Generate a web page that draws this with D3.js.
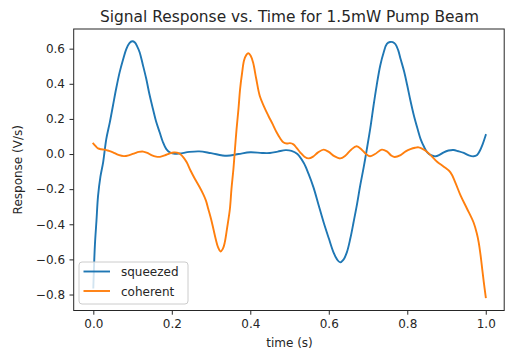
<!DOCTYPE html>
<html>
<head>
<meta charset="utf-8">
<script src="https://cdn.jsdelivr.net/npm/d3@7"></script>
<style>
  html, body { margin: 0; padding: 0; background: #fff; }
  svg { display: block; font-family: "DejaVu Sans", sans-serif; }
</style>
</head>
<body>
<svg id="chart" width="505" height="354"></svg>
<script>
// Sample times (s) and responses (V/s) for the squeezed beam
const squeezedTime = [
  0.000, 0.004, 0.008, 0.012, 0.018, 0.025, 0.033, 0.042, 0.050, 0.058,
  0.067, 0.076, 0.084, 0.092, 0.099, 0.106, 0.112, 0.118, 0.126, 0.135,
  0.143, 0.152, 0.160, 0.169, 0.177, 0.186, 0.196, 0.208, 0.220, 0.245,
  0.270, 0.300, 0.340, 0.370, 0.400, 0.430, 0.450, 0.470, 0.490, 0.505,
  0.520, 0.536, 0.548, 0.561, 0.574, 0.587, 0.600, 0.612, 0.621, 0.629,
  0.637, 0.646, 0.655, 0.663, 0.672, 0.680, 0.689, 0.697, 0.706, 0.714,
  0.722, 0.731, 0.740, 0.748, 0.756, 0.763, 0.770, 0.777, 0.783, 0.792,
  0.800, 0.808, 0.817, 0.826, 0.834, 0.843, 0.851, 0.862, 0.872, 0.882,
  0.893, 0.905, 0.918, 0.930, 0.944, 0.957, 0.969, 0.978, 0.985, 0.992,
  1.000
];
const squeezedValue = [
  -0.760, -0.520, -0.380, -0.240, -0.130, -0.047, 0.085, 0.180, 0.275, 0.370,
  0.465, 0.540, 0.598, 0.632, 0.642, 0.635, 0.612, 0.580, 0.510, 0.427,
  0.340, 0.256, 0.185, 0.124, 0.070, 0.028, 0.008, 0.001, 0.003, 0.012,
  0.015, 0.005, -0.010, 0.000, 0.010, 0.006, 0.006, 0.014, 0.022, 0.018,
  0.000, -0.050, -0.110, -0.190, -0.290, -0.390, -0.480, -0.560, -0.600, -0.617,
  -0.603, -0.560, -0.480, -0.390, -0.285, -0.180, -0.075, 0.028, 0.150, 0.275,
  0.390, 0.503, 0.580, 0.627, 0.638, 0.637, 0.625, 0.590, 0.541, 0.470,
  0.390, 0.305, 0.218, 0.145, 0.085, 0.040, 0.010, -0.008, -0.013, -0.005,
  0.010, 0.020, 0.023, 0.016, 0.006, -0.008, -0.013, -0.005, 0.019, 0.055,
  0.108
];

// Sample times (s) and responses (V/s) for the coherent beam
const coherentTime = [
  0.000, 0.006, 0.012, 0.020, 0.029, 0.040, 0.050, 0.064, 0.078, 0.092,
  0.105, 0.116, 0.127, 0.138, 0.148, 0.160, 0.170, 0.182, 0.195, 0.205,
  0.213, 0.221, 0.230, 0.238, 0.248, 0.259, 0.270, 0.280, 0.287, 0.293,
  0.300, 0.306, 0.312, 0.318, 0.324, 0.330, 0.335, 0.341, 0.348, 0.352,
  0.357, 0.361, 0.365, 0.370, 0.374, 0.379, 0.384, 0.390, 0.395, 0.401,
  0.407, 0.415, 0.424, 0.435, 0.446, 0.457, 0.467, 0.476, 0.484, 0.493,
  0.501, 0.510, 0.518, 0.527, 0.538, 0.549, 0.560, 0.572, 0.587, 0.600,
  0.614, 0.629, 0.642, 0.657, 0.671, 0.684, 0.695, 0.705, 0.718, 0.735,
  0.748, 0.760, 0.768, 0.783, 0.796, 0.808, 0.820, 0.829, 0.840, 0.850,
  0.862, 0.876, 0.893, 0.910, 0.922, 0.936, 0.952, 0.969, 0.977, 0.982,
  0.987, 0.991, 0.995, 1.000
];
const coherentValue = [
  0.060, 0.045, 0.032, 0.027, 0.025, 0.018, 0.010, -0.005, -0.012, -0.006,
  0.004, 0.012, 0.014, 0.006, -0.006, -0.015, -0.016, -0.008, 0.004, 0.009,
  0.008, 0.000, -0.020, -0.047, -0.095, -0.142, -0.185, -0.228, -0.265, -0.313,
  -0.370, -0.427, -0.485, -0.532, -0.555, -0.540, -0.503, -0.420, -0.313, -0.200,
  -0.085, 0.030, 0.142, 0.260, 0.370, 0.460, 0.532, 0.565, 0.574, 0.560,
  0.522, 0.430, 0.332, 0.270, 0.218, 0.170, 0.124, 0.090, 0.067, 0.060,
  0.062, 0.055, 0.035, 0.010, -0.015, -0.025, -0.015, 0.008, 0.025, 0.012,
  -0.012, -0.025, -0.010, 0.025, 0.044, 0.025, 0.000, -0.013, 0.000, 0.025,
  0.015, -0.010, -0.017, -0.006, 0.015, 0.028, 0.036, 0.038, 0.028, 0.013,
  -0.012, -0.044, -0.072, -0.104, -0.160, -0.237, -0.310, -0.390, -0.450, -0.503,
  -0.580, -0.655, -0.730, -0.815
];

const seriesNames = ["squeezed", "coherent"];
const xTicks = [0.0, 0.2, 0.4, 0.6, 0.8, 1.0];
const yTicks = [-0.8, -0.6, -0.4, -0.2, 0.0, 0.2, 0.4, 0.6];

const titleText = "Signal Response vs. Time for 1.5mW Pump Beam";
const xLabel = "time (s)";
const yLabel = "Response (V/s)";

const colors = ["#1f77b4", "#ff7f0e"];
const textColor = "#262626";

const svg = d3.select("#chart");

// Plot frame
const frame = { left: 73.7, right: 504.2, top: 29, bottom: 310.5 };

const x = d3.scaleLinear().domain([-0.05, 1.047]).range([frame.left, frame.right]);
const y = d3.scaleLinear().domain([-0.891, 0.712]).range([frame.bottom, frame.top]);

const fmt = d3.format(".1f");

// Lines
const series = [
  { name: seriesNames[0], pts: squeezedTime.map((t, i) => [t, squeezedValue[i]]) },
  { name: seriesNames[1], pts: coherentTime.map((t, i) => [t, coherentValue[i]]) }
];

const line = d3.line()
  .x(d => x(d[0]))
  .y(d => y(d[1]))
  .curve(d3.curveCatmullRom.alpha(0.5));

svg.append("defs").append("clipPath").attr("id", "plot-clip")
  .append("rect")
  .attr("x", frame.left).attr("y", frame.top)
  .attr("width", frame.right - frame.left).attr("height", frame.bottom - frame.top);

const plot = svg.append("g").attr("clip-path", "url(#plot-clip)");
series.forEach((s, i) => {
  plot.append("path")
    .datum(s.pts)
    .attr("fill", "none")
    .attr("stroke", colors[i])
    .attr("stroke-width", 1.9)
    .attr("stroke-linejoin", "round")
    .attr("stroke-linecap", "square")
    .attr("d", line);
});

// Axes
const xAxis = d3.axisBottom(x).tickValues(xTicks).tickFormat(fmt).tickSize(4.2).tickPadding(4.5);
const yAxis = d3.axisLeft(y).tickValues(yTicks).tickFormat(fmt).tickSize(4.2).tickPadding(4.5);

const gx = svg.append("g").attr("transform", `translate(0,${frame.bottom})`).call(xAxis);
const gy = svg.append("g").attr("transform", `translate(${frame.left},0)`).call(yAxis);

[gx, gy].forEach(g => {
  g.select(".domain").remove();
  g.selectAll(".tick line").attr("stroke", textColor).attr("stroke-width", 1);
  g.selectAll(".tick text")
    .attr("fill", textColor)
    .style("font-family", "'DejaVu Sans', sans-serif")
    .style("font-size", "12px");
});

// Frame spines
svg.append("rect")
  .attr("x", frame.left).attr("y", frame.top)
  .attr("width", frame.right - frame.left).attr("height", frame.bottom - frame.top)
  .attr("fill", "none")
  .attr("stroke", textColor)
  .attr("stroke-width", 1);

// Title and axis labels
svg.append("text")
  .attr("x", 289.5)
  .attr("y", 22)
  .attr("text-anchor", "middle")
  .attr("fill", textColor)
  .style("font-size", "15.4px")
  .text(titleText);

svg.append("text")
  .attr("x", 289.5)
  .attr("y", 347)
  .attr("text-anchor", "middle")
  .attr("fill", textColor)
  .style("font-size", "12px")
  .text(xLabel);

svg.append("text")
  .attr("transform", `translate(22,${(frame.top + frame.bottom) / 2}) rotate(-90)`)
  .attr("text-anchor", "middle")
  .attr("fill", textColor)
  .style("font-size", "12px")
  .text(yLabel);

// Legend
const legend = svg.append("g").attr("transform", "translate(79,262)");
legend.append("rect")
  .attr("x", 0).attr("y", 0)
  .attr("width", 109).attr("height", 42)
  .attr("rx", 3)
  .attr("fill", "#fff").attr("fill-opacity", 0.8)
  .attr("stroke", "#cccccc").attr("stroke-width", 1);

seriesNames.forEach((name, i) => {
  const ly = 9.5 + i * 19.5;
  legend.append("line")
    .attr("x1", 4.5).attr("x2", 31)
    .attr("y1", ly).attr("y2", ly)
    .attr("stroke", colors[i]).attr("stroke-width", 1.9);
  legend.append("text")
    .attr("x", 42).attr("y", ly + 4.5)
    .attr("fill", textColor)
    .style("font-size", "12px")
    .text(name);
});
</script>
</body>
</html>
